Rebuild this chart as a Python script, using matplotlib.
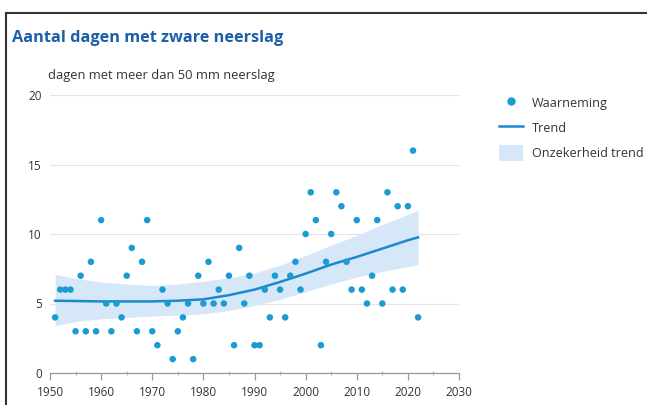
import matplotlib.pyplot as plt
from matplotlib.lines import Line2D
from matplotlib.patches import Patch

plt.rcParams['font.family'] = ['Open Sans', 'DejaVu Sans']

# observed days with more than 50 mm precipitation
years = list(range(1951, 2023))
days = [4, 6, 6, 6, 3, 7, 3, 8, 3, 11,
        5, 3, 5, 4, 7, 9, 3, 8, 11, 3,
        2, 6, 5, 1, 3, 4, 5, 1, 7, 5,
        8, 5, 6, 5, 7, 2, 9, 5, 7, 2,
        2, 6, 4, 7, 6, 4, 7, 8, 6, 10,
        13, 11, 2, 8, 10, 13, 12, 8, 6, 11,
        6, 5, 7, 11, 5, 13, 6, 12, 6, 12,
        16, 4]

# trend and its uncertainty band
trend_years = [1951, 1955, 1960, 1965, 1970, 1975, 1980, 1985, 1990, 1995,
               2000, 2005, 2010, 2015, 2020, 2022]
trend = [5.2, 5.18, 5.15, 5.15, 5.15, 5.2, 5.3, 5.6, 6.0, 6.55,
         7.15, 7.8, 8.35, 8.95, 9.55, 9.76]
band_lower = [3.4, 3.7, 3.9, 4.0, 4.1, 4.15, 4.25, 4.5, 4.85, 5.3,
              5.85, 6.4, 6.9, 7.3, 7.65, 7.8]
band_upper = [7.1, 6.8, 6.55, 6.4, 6.3, 6.4, 6.6, 6.85, 7.2, 7.75,
              8.45, 9.2, 9.9, 10.7, 11.4, 11.7]

xticks = [1950, 1960, 1970, 1980, 1990, 2000, 2010, 2020, 2030]
yticks = [0, 5, 10, 15, 20]

dot_color = '#1b9bd1'
line_color = '#1a8ad0'
band_color = '#d6e8f7'
title_color = '#1d5ea8'
text_color = '#333333'

W, H = 647, 405
fig = plt.figure(figsize=(W / 100, H / 100), dpi=100)
ax = fig.add_axes([50 / W, 1 - 373 / H, 409 / W, 278 / H])

ax.fill_between(trend_years, band_lower, band_upper, color=band_color, lw=0, zorder=1)
ax.plot(trend_years, trend, color=line_color, lw=1.8, zorder=2)
ax.scatter(years, days, s=22, color=dot_color, edgecolors='none', zorder=3)

ax.set_xlim(1950, 2030)
ax.set_ylim(0, 20)
ax.set_xticks(xticks)
ax.set_xticks(range(1955, 2030, 10), minor=True)
ax.set_yticks(yticks)
ax.grid(axis='y', color='#e4e4e4', lw=0.8, zorder=0)
ax.set_axisbelow(True)
for s in ['top', 'right', 'left']:
    ax.spines[s].set_visible(False)
ax.spines['bottom'].set_color('#9a9a9a')
ax.spines['bottom'].set_linewidth(0.9)
ax.tick_params(axis='x', which='major', length=5, width=0.9, color='#9a9a9a',
               labelsize=8.5, labelcolor=text_color, pad=4)
ax.tick_params(axis='x', which='minor', length=3, width=0.9, color='#bbbbbb',
               direction='inout')
ax.tick_params(axis='y', length=0, labelsize=8.5, labelcolor=text_color, pad=6)

fig.text(12 / W, 1 - 38 / H, 'Aantal dagen met zware neerslag', color=title_color,
         fontsize=11.7, fontweight='bold', va='center', ha='left')
fig.text(48 / W, 1 - 75 / H, 'dagen met meer dan 50 mm neerslag', color=text_color,
         fontsize=9.3, va='center', ha='left')

handles = [
    Line2D([], [], marker='o', ls='none', color=dot_color, markersize=5),
    Line2D([], [], color=line_color, lw=1.8),
    Patch(facecolor=band_color, edgecolor='none'),
]
labels = ['Waarneming', 'Trend', 'Onzekerheid trend']
fig.legend(handles, labels, loc='upper left', bbox_to_anchor=(488 / W, 1 - 83 / H),
           frameon=False, fontsize=9.1, handlelength=1.9, handleheight=1.6,
           handletextpad=0.7, labelspacing=0.72, labelcolor=text_color)

# frame edges at top and left
fig.add_artist(Line2D([6 / W, 1], [1 - 13 / H, 1 - 13 / H], color='#333333', lw=1.5,
                      transform=fig.transFigure))
fig.add_artist(Line2D([6 / W, 6 / W], [0, 1 - 13 / H], color='#333333', lw=1.5,
                      transform=fig.transFigure))

fig.savefig('out.png', dpi=100)
